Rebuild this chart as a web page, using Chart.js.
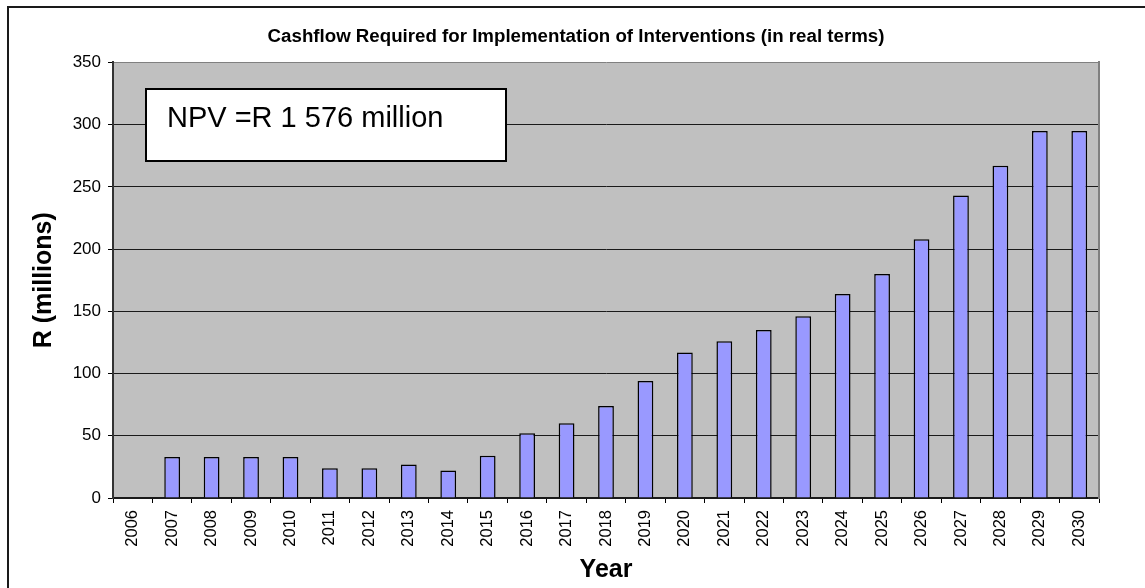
<!DOCTYPE html>
<html>
<head>
<meta charset="utf-8">
<title>Cashflow Required for Implementation of Interventions</title>
<script src="https://cdn.jsdelivr.net/npm/chart.js@4.4.1/dist/chart.umd.min.js"></script>
<style>
  html, body { margin: 0; padding: 0; background: #ffffff; }
  #wrap { width: 1145px; height: 588px; position: relative; overflow: hidden; }
  canvas { display: block; }
</style>
</head>
<body>
<div id="wrap"><canvas id="cashflow" width="1145" height="588"></canvas></div>
<script>
// Financial years on the category axis
const years = ['2006', '2007', '2008', '2009', '2010', '2011', '2012', '2013', '2014', '2015',
               '2016', '2017', '2018', '2019', '2020', '2021', '2022', '2023', '2024', '2025',
               '2026', '2027', '2028', '2029', '2030'];

// Cashflow per year, R millions (real terms)
const cashflow = [0, 33, 33, 33, 33, 24, 24, 27, 22, 34,
                  52, 60, 74, 94, 117, 126, 135, 146, 164, 180,
                  208, 243, 267, 295, 295];

// Value axis range and tick spacing
const yMin = 0;
const yMax = 350;
const yStep = 50;

const chartTitle = 'Cashflow Required for Implementation of Interventions (in real terms)';
const yTitle = 'R (millions)';
const xTitle = 'Year';
const npvNote = 'NPV =R 1 576 million';

const FONT = "Arial, 'Liberation Sans', Helvetica, sans-serif";

// White page, thin outer frame, grey plot area
const backdrop = {
  id: 'backdrop',
  beforeDraw(chart) {
    const { ctx, chartArea: a } = chart;
    ctx.save();
    ctx.fillStyle = '#ffffff';
    ctx.fillRect(0, 0, chart.width, chart.height);
    ctx.strokeStyle = '#1a1a1a';
    ctx.lineWidth = 2;
    ctx.beginPath();
    ctx.moveTo(8, chart.height + 5);
    ctx.lineTo(8, 7);
    ctx.lineTo(chart.width + 5, 7);
    ctx.stroke();
    ctx.fillStyle = '#c0c0c0';
    ctx.fillRect(a.left, a.top, a.right - a.left, a.bottom - a.top);
    ctx.restore();
  }
};

// Text box carrying the net present value
const npvBox = {
  id: 'npvBox',
  afterDatasetsDraw(chart) {
    const { ctx } = chart;
    const x = 146, y = 89, w = 360, h = 72;
    ctx.save();
    ctx.fillStyle = '#ffffff';
    ctx.fillRect(x, y, w, h);
    ctx.strokeStyle = '#000000';
    ctx.lineWidth = 2;
    ctx.strokeRect(x, y, w, h);
    ctx.fillStyle = '#000000';
    ctx.font = '29px ' + FONT;
    ctx.textAlign = 'left';
    ctx.textBaseline = 'alphabetic';
    ctx.fillText(npvNote, 167, 127);
    ctx.restore();
  }
};

new Chart(document.getElementById('cashflow'), {
  type: 'bar',
  data: {
    labels: years,
    datasets: [{
      label: 'Cashflow',
      data: cashflow,
      backgroundColor: '#9999ff',
      borderColor: '#000000',
      borderWidth: 1.5,
      categoryPercentage: 1.0,
      barPercentage: 0.4
    }]
  },
  options: {
    responsive: false,
    animation: false,
    devicePixelRatio: 1,
    layout: { padding: { left: 7, right: 0, top: 0, bottom: 0 } },
    plugins: {
      legend: { display: false },
      tooltip: { enabled: false },
      title: {
        display: true,
        text: chartTitle,
        color: '#000000',
        font: { family: FONT, size: 18.7, weight: 'bold' },
        padding: { top: 26, bottom: 14 }
      }
    },
    scales: {
      x: {
        type: 'category',
        offset: true,
        grid: {
          display: true,
          drawOnChartArea: false,
          offset: true,
          color: '#000000',
          tickLength: 5
        },
        border: { display: true, color: '#1a1a1a', width: 2 },
        ticks: {
          color: '#000000',
          font: { family: FONT, size: 16.5 },
          maxRotation: 90,
          minRotation: 90,
          autoSkip: false,
          padding: 7
        },
        title: {
          display: true,
          text: xTitle,
          color: '#000000',
          font: { family: FONT, size: 25, weight: 'bold' },
          padding: { top: 0, bottom: 3 }
        },
        afterFit(scale) { scale.height = 90; }
      },
      y: {
        type: 'linear',
        position: 'left',
        min: yMin,
        max: yMax,
        ticks: {
          stepSize: yStep,
          color: '#000000',
          font: { family: FONT, size: 17 },
          padding: 7
        },
        grid: {
          color: (c) => (c.tick && c.tick.value === yMax ? '#808080' : '#1a1a1a'),
          tickColor: '#000000',
          lineWidth: 1,
          tickLength: 5
        },
        border: { display: true, color: '#333333', width: 2 },
        title: {
          display: true,
          text: yTitle,
          color: '#000000',
          font: { family: FONT, size: 25, weight: 'bold' },
          padding: { top: 22, bottom: 0 }
        },
        afterFit(scale) { scale.width = 106; }
      },
      edge: {
        type: 'linear',
        position: 'right',
        display: true,
        grid: { display: false, drawTicks: false },
        ticks: { display: false },
        border: { display: true, color: '#808080', width: 2 },
        afterFit(scale) { scale.width = 46; }
      }
    }
  },
  plugins: [backdrop, npvBox]
});
</script>
</body>
</html>
